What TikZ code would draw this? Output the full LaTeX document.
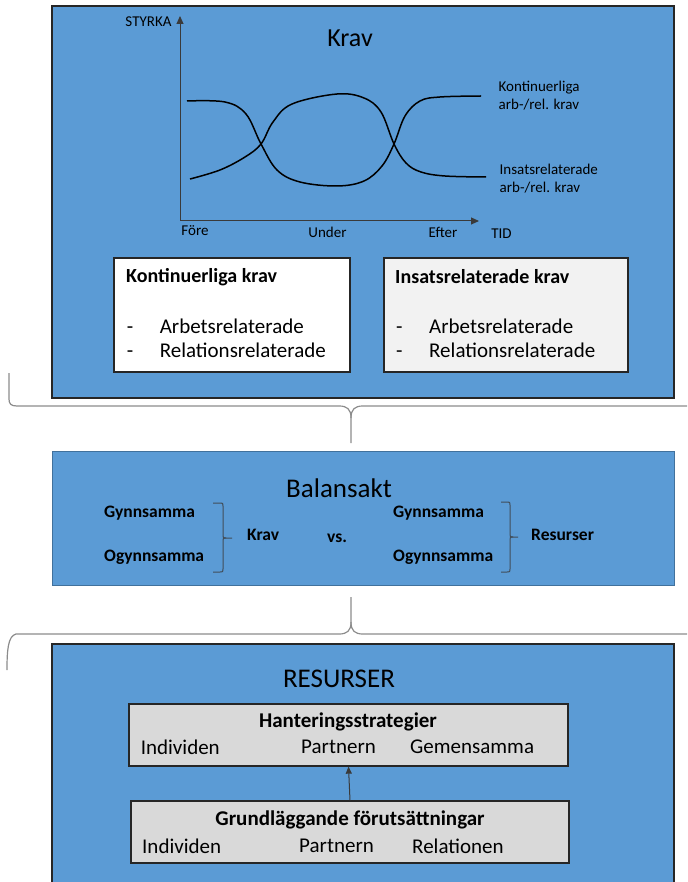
\documentclass[tikz,border=0pt]{standalone}
\usepackage{fontspec}
\setmainfont{Carlito}
\usepackage{tikz}
\usetikzlibrary{arrows.meta}

\definecolor{panelblue}{HTML}{5B9BD5}
\definecolor{paneledge}{HTML}{262626}
\definecolor{baledge}{HTML}{41719C}
\definecolor{lightbox}{HTML}{F2F2F2}
\definecolor{greybox}{HTML}{D9D9D9}
\definecolor{bracegrey}{HTML}{8C8C8C}
\definecolor{axisgrey}{HTML}{3A3A3A}

\newcommand{\fsz}[2]{\fontsize{#1}{#2}\selectfont}
% right bracket: x ends, x line, x tip, y top, y mid, y bottom
\newcommand{\sidebrace}[6]{%
   \draw[smallbrace] (#1,#4) -- ({#2-3},#4) .. controls (#2,#4) and (#2,#4) .. (#2,{#4-3}) -- (#2,{#5+3}) .. controls (#2,#5) and (#2,#5) .. ({#2+3},#5) -- (#3,#5);
   \draw[smallbrace] ({#2+3},#5) .. controls (#2,#5) and (#2,#5) .. (#2,{#5-3}) -- (#2,{#6+3}) .. controls (#2,#6) and (#2,#6) .. ({#2-3},#6) -- (#1,#6);}

\begin{document}
\begin{tikzpicture}[x=1pt,y=1pt]

   \tikzstyle{every node}+=[inner sep=0pt]
   \tikzstyle{panel}=[rectangle, draw=paneledge, line width=1.5pt, fill=panelblue]
   \tikzstyle{itembox}=[rectangle, draw=paneledge, line width=1.3pt]
   \tikzstyle{axis}=[draw=axisgrey, line width=1pt, -{Triangle[length=8pt,width=7pt]}]
   \tikzstyle{curve}=[black, line width=1.5pt]
   \tikzstyle{bigbrace}=[draw=bracegrey, line width=1.2pt]
   \tikzstyle{smallbrace}=[draw=axisgrey!80!panelblue, line width=1pt]
   \tikzstyle{title}=[font=\fsz{27}{32}]
   \tikzstyle{lbl}=[font=\fsz{15}{18}, align=left]
   \tikzstyle{boxhead}=[font=\fsz{20}{24}\bfseries]
   \tikzstyle{boxtext}=[font=\fsz{21}{24}]
   \tikzstyle{balance}=[font=\fsz{17.5}{21}\bfseries]

   \clip (0,0) rectangle (687,-882);

   % Krav
   \node[panel, minimum width=622pt, minimum height=392pt] (kravpanel) at (363,-202) {};
   \node[font=\fsz{26}{30}] (kravtitle) at (350,-38) {Krav};
   \coordinate (origo) at (180,-221);
   \coordinate (ytop) at (180,-16);
   \coordinate (xend) at (479,-221);
   \draw[axis] (origo) -- (ytop);
   \draw[axis] (origo) -- (xend);
   \node[lbl] (styrka) at (148.5,-22) {STYRKA};
   \node[lbl] (fore) at (195,-231) {Före};
   \node[lbl] (under) at (327.5,-232) {Under};
   \node[lbl] (efter) at (443,-232) {Efter};
   \node[lbl] (tid) at (501.5,-234) {TID};
   \draw[curve] plot[smooth, tension=0.6] coordinates {(187,-101) (225,-102) (246,-114) (261,-144) (277,-170) (300,-182) (337,-186) (364,-181) (382,-166) (394,-144) (405,-116) (420,-101) (440,-97) (481,-96)};
   \draw[curve] plot[smooth, tension=0.6] coordinates {(190,-179) (220,-170) (245,-157) (261,-144) (273,-122) (292,-104) (337,-94) (364,-98) (381,-112) (394,-144) (406,-163) (421,-172) (445,-176) (486,-177)};
   \node[lbl, anchor=west] (kontlbl) at (498.5,-96) {Kontinuerliga\\arb-/rel. krav};
   \node[lbl, anchor=west] (insatslbl) at (499.5,-179) {Insatsrelaterade\\arb-/rel. krav};

   \node[itembox, fill=white, minimum width=236pt, minimum height=114pt] (kontbox) at (232,-315) {};
   \node[boxhead, anchor=west] (konthead) at (126,-277) {Kontinuerliga krav};
   \node[boxtext, anchor=west] (kontitems) at (126.6,-341) {\begin{tabular}{@{}p{33pt}@{}l@{}}-&Arbetsrelaterade\\-&Relationsrelaterade\end{tabular}};
   \node[itembox, fill=lightbox, minimum width=244pt, minimum height=114pt] (insatsbox) at (506,-315) {};
   \node[boxhead, anchor=west] (insatshead) at (395,-277) {Insatsrelaterade krav};
   \node[boxtext, anchor=west] (insatsitems) at (396,-341) {\begin{tabular}{@{}p{33pt}@{}l@{}}-&Arbetsrelaterade\\-&Relationsrelaterade\end{tabular}};

   % upper brace
   \draw[bigbrace] (9,-373) -- (9,-399) .. controls (9,-404) and (11,-406) .. (17,-406) -- (339,-406) .. controls (347,-406) and (351,-409) .. (351,-418) -- (351,-443);
   \draw[bigbrace] (351,-418) .. controls (351,-409) and (355,-406) .. (363,-406) -- (700,-406);

   % Balansakt
   \node[panel, draw=baledge, line width=1pt, minimum width=622pt, minimum height=134pt] (balpanel) at (363,-518) {};
   \node[title] (baltitle) at (339,-488) {Balansakt};
   \node[balance, anchor=west] (gynn1) at (104,-513) {Gynnsamma};
   \node[balance, anchor=west] (ogynn1) at (104,-557) {Ogynnsamma};
   \sidebrace{213}{223}{232}{-503}{-538}{-572}
   \node[balance, anchor=west] (kravbal) at (247,-535) {Krav};
   \node[balance] (vs) at (337,-538) {vs.};
   \node[balance, anchor=west] (gynn2) at (393,-513) {Gynnsamma};
   \node[balance, anchor=west] (ogynn2) at (393,-557) {Ogynnsamma};
   \sidebrace{501}{510}{518}{-502}{-537}{-572}
   \node[balance, anchor=west] (resbal) at (531,-535) {Resurser};

   % lower brace
   \draw[bigbrace] (7,-670) .. controls (7,-650) and (8,-636) .. (16,-634) -- (339,-634) .. controls (347,-634) and (351,-631) .. (351,-622) -- (351,-597);
   \draw[bigbrace] (351,-622) .. controls (351,-631) and (355,-634) .. (363,-634) -- (700,-634);

   % Resurser
   \node[panel, minimum width=622pt, minimum height=256pt] (respanel) at (363,-772) {};
   \node[title] (restitle) at (339,-679) {RESURSER};
   \node[itembox, fill=greybox, minimum width=439pt, minimum height=62pt] (hantbox) at (348.5,-735) {};
   \node[boxtext, font=\fsz{21}{24}\bfseries] (hanthead) at (348,-722) {Hanteringsstrategier};
   \node[boxtext, anchor=west] (hant1) at (140.6,-747) {Individen};
   \node[boxtext, anchor=west] (hant2) at (301,-747) {Partnern};
   \node[boxtext, anchor=west] (hant3) at (410,-747) {Gemensamma};
   \node[itembox, fill=greybox, minimum width=438pt, minimum height=62pt] (grundbox) at (350,-832) {};
   \node[boxtext, font=\fsz{21}{24}\bfseries] (grundhead) at (350,-820) {Grundläggande förutsättningar};
   \node[boxtext, anchor=west] (grund1) at (142,-846) {Individen};
   \node[boxtext, anchor=west] (grund2) at (299,-846) {Partnern};
   \node[boxtext, anchor=west] (grund3) at (412,-846) {Relationen};
   \draw[draw=axisgrey, line width=1pt, -{Triangle[length=7pt,width=6pt]}] (grundbox.north) -- (hantbox.south);

\end{tikzpicture}
\end{document}
